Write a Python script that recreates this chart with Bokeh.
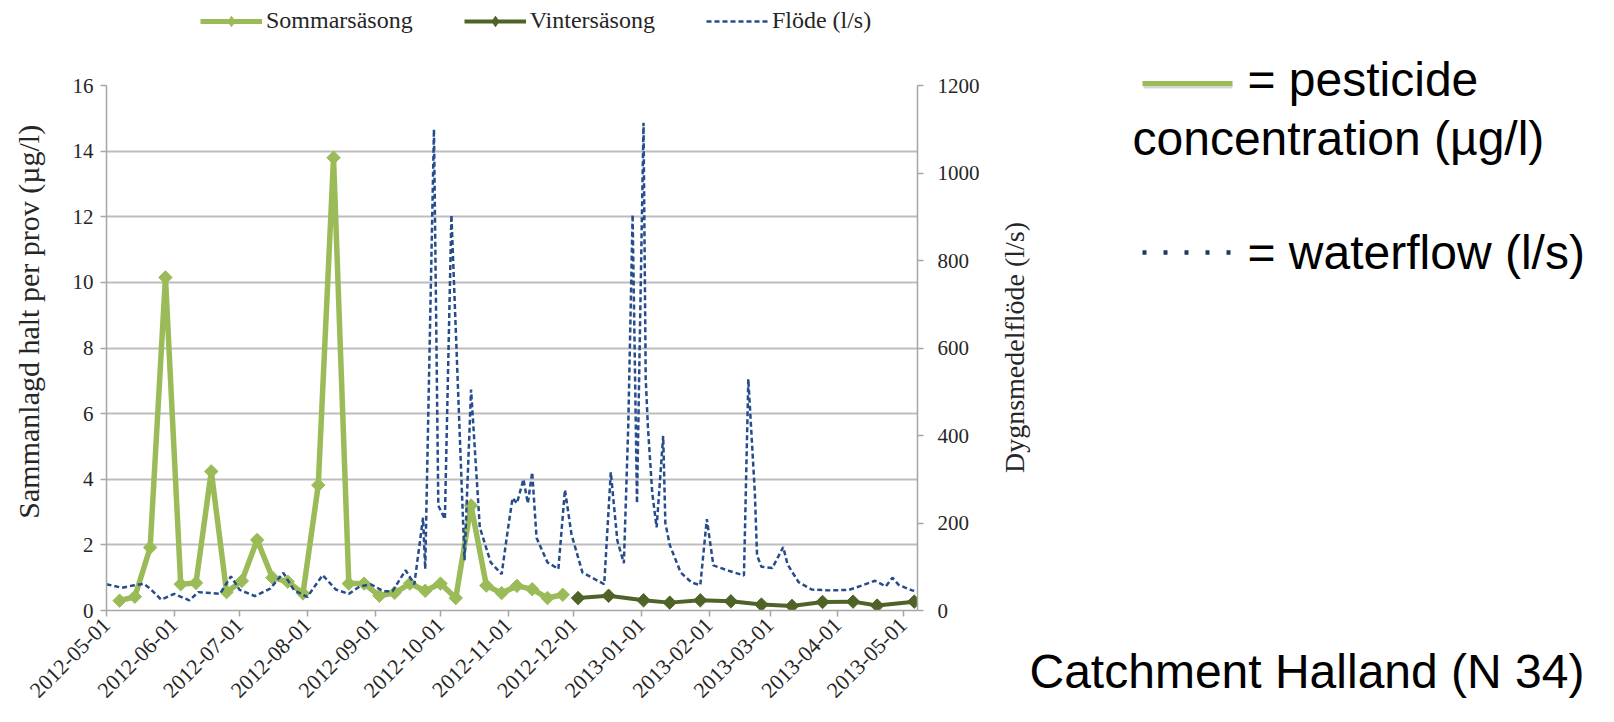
import math
import pandas as pd
from bokeh.plotting import figure
from bokeh.layouts import column, row
from bokeh.models import (Range1d, LinearAxis, FixedTicker, DatetimeTickFormatter,
                          Legend, LegendItem, Label, Arrow, ColumnDataSource)
from bokeh.embed import file_html
from bokeh.resources import INLINE

# ---------------- data ----------------
summer_dates = ["2012-05-07", "2012-05-14", "2012-05-21", "2012-05-28", "2012-06-04", "2012-06-11",
                "2012-06-18", "2012-06-25", "2012-07-02", "2012-07-09", "2012-07-16", "2012-07-23",
                "2012-07-30", "2012-08-06", "2012-08-13", "2012-08-20", "2012-08-27", "2012-09-03",
                "2012-09-10", "2012-09-17", "2012-09-24", "2012-10-01", "2012-10-08", "2012-10-15",
                "2012-10-22", "2012-10-29", "2012-11-05", "2012-11-12", "2012-11-19", "2012-11-26"]
summer_vals = [0.3, 0.42, 1.92, 10.15, 0.8, 0.84, 4.24, 0.56, 0.9, 2.15, 1.0, 0.88,
               0.52, 3.82, 13.8, 0.82, 0.82, 0.45, 0.54, 0.82, 0.6, 0.82, 0.38, 3.2,
               0.76, 0.53, 0.75, 0.65, 0.38, 0.48]

winter_dates = ["2012-12-03", "2012-12-17", "2013-01-02", "2013-01-14", "2013-01-28", "2013-02-11",
                "2013-02-25", "2013-03-11", "2013-03-25", "2013-04-08", "2013-04-19", "2013-05-06"]
winter_vals = [0.38, 0.45, 0.31, 0.24, 0.31, 0.28, 0.18, 0.14, 0.26, 0.27, 0.15, 0.27]

flow_dates = ["2012-05-01", "2012-05-08", "2012-05-13", "2012-05-18", "2012-05-21", "2012-05-26",
              "2012-06-01", "2012-06-08", "2012-06-12", "2012-06-18", "2012-06-22", "2012-06-27",
              "2012-07-01", "2012-07-08", "2012-07-15", "2012-07-21", "2012-07-26", "2012-08-01",
              "2012-08-08", "2012-08-14", "2012-08-20", "2012-08-25", "2012-08-30", "2012-09-05",
              "2012-09-09", "2012-09-15", "2012-09-19", "2012-09-23", "2012-09-24", "2012-09-28",
              "2012-09-30", "2012-10-03", "2012-10-06", "2012-10-12", "2012-10-15", "2012-10-19",
              "2012-10-24", "2012-10-29", "2012-11-01", "2012-11-03", "2012-11-05", "2012-11-08",
              "2012-11-10", "2012-11-12", "2012-11-14", "2012-11-19", "2012-11-24", "2012-11-27",
              "2012-11-30", "2012-12-05", "2012-12-15", "2012-12-18", "2012-12-21", "2012-12-24",
              "2012-12-26", "2012-12-28", "2012-12-30", "2013-01-02", "2013-01-03", "2013-01-04",
              "2013-01-06", "2013-01-08", "2013-01-11", "2013-01-12", "2013-01-14", "2013-01-19",
              "2013-01-24", "2013-01-28", "2013-01-31", "2013-02-03", "2013-02-10", "2013-02-17",
              "2013-02-19", "2013-02-22", "2013-02-23", "2013-02-25", "2013-03-02", "2013-03-07",
              "2013-03-09", "2013-03-14", "2013-03-20", "2013-03-28", "2013-04-06", "2013-04-12",
              "2013-04-18", "2013-04-23", "2013-04-26", "2013-04-29", "2013-05-05", "2013-05-06"]
flow_vals = [60, 52, 57, 61, 50, 25,
             38, 23, 42, 40, 38, 78,
             47, 33, 50, 86, 46, 31,
             81, 48, 38, 55, 60, 44,
             44, 92, 60, 212, 95, 1100,
             240, 209, 904, 115, 505, 190,
             110, 83, 190, 257, 245, 300,
             245, 316, 166, 110, 95, 276,
             174, 87, 60, 316, 160, 108,
             420, 905, 245, 1115, 530, 420,
             268, 190, 399, 200, 150, 87,
             64, 58, 209, 103, 91, 80,
             529, 268, 126, 100, 97, 145,
             105, 65, 48, 46, 47, 57,
             68, 55, 75, 58, 46, 45]

x_tick_labels = ["2012-05-01", "2012-06-01", "2012-07-01", "2012-08-01", "2012-09-01", "2012-10-01",
                 "2012-11-01", "2012-12-01", "2013-01-01", "2013-02-01", "2013-03-01", "2013-04-01",
                 "2013-05-01"]
left_ticks = [0, 2, 4, 6, 8, 10, 12, 14, 16]
right_ticks = [0, 200, 400, 600, 800, 1000, 1200]

legend_labels = ["Sommarsäsong", "Vintersäsong", "Flöde (l/s)"]
left_title = "Sammanlagd halt per prov (µg/l)"
right_title = "Dygnsmedelflöde (l/s)"
note_lines = ["= pesticide", "concentration (µg/l)", "= waterflow (l/s)"]
caption = "Catchment Halland (N 34)"

# ---------------- styles ----------------
C_SUMMER = "#9BBB59"
C_WINTER = "#4F6228"
C_FLOW = "#264C8C"
AXIS_C = "#A6A6A6"
GRID_C = "#BDBDBD"
TXT_C = "#262626"
SERIF = "Liberation Serif"
SANS = "Liberation Sans"

TOTAL_W, TOTAL_H = 1614, 722
HEAD_H = 40
BODY_H = TOTAL_H - HEAD_H
P_W = 1000
NOTES_W = TOTAL_W - P_W


def ms(s):
    return pd.Timestamp(s).value // 10**6


def blank(width, height):
    f = figure(frame_width=width, frame_height=height, output_backend="svg", toolbar_location=None,
               x_axis_location=None, y_axis_location=None,
               x_range=Range1d(0, width), y_range=Range1d(0, height),
               min_border=0, min_border_left=0, min_border_right=0,
               min_border_top=0, min_border_bottom=0)
    f.frame_align = False
    f.outline_line_color = None
    f.grid.visible = False
    f.background_fill_color = "white"
    f.border_fill_color = "white"
    return f


src_s = ColumnDataSource(dict(d=pd.to_datetime(summer_dates), v=summer_vals))
src_w = ColumnDataSource(dict(d=pd.to_datetime(winter_dates), v=winter_vals))
src_f = ColumnDataSource(dict(d=pd.to_datetime(flow_dates), v=flow_vals))

# ---------------- main chart ----------------
p = figure(width=P_W, height=BODY_H, output_backend="svg", toolbar_location=None,
           x_axis_type="datetime",
           x_range=Range1d(pd.Timestamp("2012-05-01"), pd.Timestamp("2013-05-07 12:00")),
           y_range=Range1d(0, 16),
           min_border_left=106, min_border_right=P_W - 106 - 811, min_border_top=45,
           min_border_bottom=BODY_H - 45 - 525)
p.frame_align = False
p.extra_y_ranges = {"flow": Range1d(0, 1200)}
p.outline_line_color = None
p.background_fill_color = "white"
p.border_fill_color = "white"

xa = p.xaxis[0]
xa.ticker = FixedTicker(ticks=[ms(t) for t in x_tick_labels])
fmt = "%Y-%m-%d"
xa.formatter = DatetimeTickFormatter(milliseconds=fmt, seconds=fmt, minsec=fmt, minutes=fmt,
                                     hourmin=fmt, hours=fmt, days=fmt, months=fmt, years=fmt)
xa.major_label_orientation = math.pi / 4
xa.major_label_standoff = 5

ya = p.yaxis[0]
ya.ticker = FixedTicker(ticks=left_ticks)
ya.major_label_standoff = 7
# leading no-break spaces lift the (bottom-to-top) title a little above the axis centre
ya.axis_label = "\u00a0" * 7 + left_title
ya.axis_label_standoff = 25
ya.axis_label_text_font = SERIF
ya.axis_label_text_font_size = "30px"
ya.axis_label_text_font_style = "normal"
ya.axis_label_text_color = TXT_C

ra = LinearAxis(y_range_name="flow", ticker=FixedTicker(ticks=right_ticks))
ra.major_label_standoff = 14
p.add_layout(ra, "right")

for ax in (xa, ya, ra):
    ax.axis_line_color = AXIS_C
    ax.axis_line_width = 1.5
    ax.major_tick_line_color = AXIS_C
    ax.major_tick_line_width = 1.5
    ax.major_tick_out = 6
    ax.major_tick_in = 0
    ax.minor_tick_line_color = None
    ax.major_label_text_font = SERIF
    ax.major_label_text_font_size = "21px"
    ax.major_label_text_color = TXT_C
xa.major_label_text_font_size = "22px"

p.xgrid.visible = False
p.ygrid.grid_line_color = GRID_C
p.ygrid.grid_line_width = 1.8

p.line("d", "v", source=src_s, line_color=C_SUMMER, line_width=5.5, line_join="round")
p.scatter("d", "v", source=src_s, marker="square", angle=math.pi / 4, size=9.5,
          fill_color=C_SUMMER, line_color=C_SUMMER)
p.line("d", "v", source=src_w, line_color=C_WINTER, line_width=4, line_join="round")
p.scatter("d", "v", source=src_w, marker="square", angle=math.pi / 4, size=9.5,
          fill_color=C_WINTER, line_color=C_WINTER)
p.line("d", "v", source=src_f, y_range_name="flow", line_color=C_FLOW, line_width=2.5,
       line_dash="5 3")

# ---------------- header with legend ----------------
head = blank(TOTAL_W, HEAD_H)
off = ColumnDataSource(dict(x=[-50, -40], y=[-50, -50]))
hl1 = head.line("x", "y", source=off, line_color=C_SUMMER, line_width=5)
hs1 = head.scatter("x", "y", source=off, marker="diamond", size=14,
                   fill_color=C_SUMMER, line_color=C_SUMMER)
hl2 = head.line("x", "y", source=off, line_color=C_WINTER, line_width=4)
hs2 = head.scatter("x", "y", source=off, marker="diamond", size=14,
                   fill_color=C_WINTER, line_color=C_WINTER)
hl3 = head.line("x", "y", source=off, line_color=C_FLOW, line_width=2.5, line_dash="5 3")
legend = Legend(items=[LegendItem(label=legend_labels[0], renderers=[hl1, hs1]),
                       LegendItem(label=legend_labels[1], renderers=[hl2, hs2]),
                       LegendItem(label=legend_labels[2], renderers=[hl3])],
                orientation="horizontal", location=(200, 6),
                glyph_width=62, glyph_height=26, label_height=26, label_standoff=4, spacing=51,
                padding=0, margin=0, border_line_color=None, background_fill_alpha=0,
                label_text_font=SERIF, label_text_font_size="24px", label_text_color=TXT_C)
head.add_layout(legend, "center")

# ---------------- notes (right title + explanation) ----------------
notes = blank(NOTES_W, BODY_H)
notes.add_layout(Label(x=14, y=375, x_units="screen", y_units="screen", text=right_title,
                       angle=math.pi / 2, text_align="center", text_baseline="middle",
                       text_font=SERIF, text_font_size="28px", text_color=TXT_C))
notes.add_layout(Arrow(start=None, end=None, x_start=143, y_start=636, x_end=232, y_end=636,
                       start_units="screen", end_units="screen", line_color="#888888",
                       line_alpha=0.35, line_width=4))
notes.add_layout(Arrow(start=None, end=None, x_start=142, y_start=639, x_end=232, y_end=639,
                       start_units="screen", end_units="screen", line_color=C_SUMMER,
                       line_width=5))
notes.add_layout(Arrow(start=None, end=None, x_start=142, y_start=470, x_end=236, y_end=470,
                       start_units="screen", end_units="screen", line_color="#1F3864",
                       line_width=4.5, line_dash="4 17", line_cap="butt"))
for txt, x, y in ((note_lines[0], 247, 643), (note_lines[1], 132, 584),
                  (note_lines[2], 247, 470), (caption, 29, 51)):
    notes.add_layout(Label(x=x, y=y, x_units="screen", y_units="screen", text=txt,
                           text_align="left", text_baseline="alphabetic",
                           text_font=SANS, text_font_size="48px", text_color="black"))

layout = column(head, row(p, notes))
open("out.html", "w").write(file_html(layout, INLINE))
